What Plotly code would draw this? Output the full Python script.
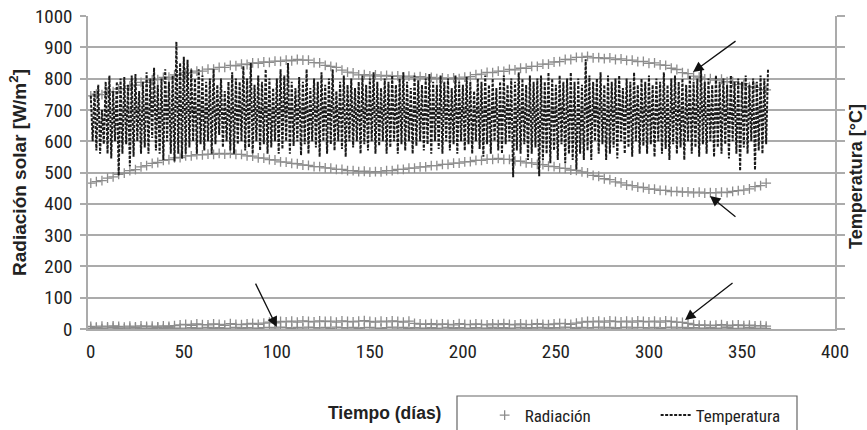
import plotly.graph_objects as go

# ---------------- data ----------------
x_ticks = [0, 50, 100, 150, 200, 250, 300, 350, 400]
y_ticks = [0, 100, 200, 300, 400, 500, 600, 700, 800, 900, 1000]

# daily temperature trace (plotted on the secondary axis, same visual scale)
temperatura = [
    745, 600, 760, 570, 780, 560, 700, 590, 790, 560, 810, 545, 760, 600, 790, 490, 800, 560, 805, 590,
    780, 520, 810, 550, 815, 600, 760, 560, 790, 580, 820, 560, 800, 610, 835, 570, 780, 560, 800, 540,
    830, 600, 790, 560, 810, 535, 918, 560, 850, 545, 870, 560, 860, 580, 830, 600, 800, 560, 830, 590,
    810, 570, 790, 600, 800, 560, 830, 590, 780, 620, 800, 580, 760, 600, 790, 570, 820, 560, 800, 590,
    790, 600, 840, 570, 800, 580, 850, 560, 780, 600, 810, 570, 790, 590, 830, 560, 800, 580, 770, 600,
    800, 560, 830, 575, 810, 600, 850, 560, 790, 585, 770, 600, 805, 555, 790, 590, 830, 560, 770, 600,
    800, 580, 790, 550, 820, 600, 780, 560, 800, 590, 830, 570, 760, 600, 790, 575, 810, 550, 780, 600,
    800, 580, 770, 600, 790, 560, 810, 590, 780, 570, 800, 600, 820, 560, 790, 585, 770, 600, 800, 560,
    790, 580, 810, 600, 780, 560, 800, 590, 820, 570, 790, 600, 770, 560, 810, 585, 795, 600, 780, 570,
    800, 590, 815, 560, 790, 600, 780, 575, 810, 560, 790, 600, 800, 570, 770, 590, 810, 560, 790, 600,
    780, 570, 805, 590, 790, 560, 760, 600, 800, 575, 790, 550, 810, 590, 780, 560, 800, 600, 770, 570,
    790, 560, 810, 590, 780, 600, 800, 485, 790, 570, 820, 560, 800, 590, 780, 540, 810, 560, 790, 580,
    800, 488, 810, 540, 790, 560, 820, 530, 800, 570, 780, 540, 810, 590, 790, 530, 800, 560, 820, 540,
    790, 510, 800, 560, 780, 540, 862, 570, 810, 540, 790, 600, 800, 560, 820, 590, 780, 540, 810, 560,
    790, 580, 800, 545, 810, 600, 770, 560, 800, 580, 790, 550, 820, 600, 780, 560, 800, 585, 790, 560,
    810, 590, 780, 550, 800, 600, 790, 560, 820, 575, 780, 540, 800, 590, 810, 560, 790, 580, 800, 540,
    780, 600, 810, 560, 790, 580, 800, 550, 830, 590, 790, 560, 800, 600, 780, 550, 810, 580, 790, 560,
    800, 590, 780, 545, 810, 600, 790, 560, 800, 505, 790, 580, 810, 560, 780, 600, 800, 508, 790, 570,
    810, 560, 800, 590, 830,
]
dias_temp = list(range(len(temperatura)))

# radiation, sampled every 3 days: upper band, lower band, two rows near zero
rad_superior = [
    745, 750, 749, 757, 758, 767, 768, 777, 779, 788,
    788, 796, 797, 804, 805, 812, 812, 818, 818, 824,
    824, 830, 830, 836, 836, 842, 841, 846, 845, 850,
    849, 853, 852, 856, 855, 859, 857, 861, 859, 859,
    851, 850, 842, 839, 836, 827, 821, 818, 812, 813,
    809, 812, 808, 810, 807, 809, 805, 808, 804, 806,
    802, 804, 800, 802, 799, 802, 800, 805, 806, 813,
    814, 820, 819, 824, 823, 829, 828, 833, 833, 839,
    839, 846, 846, 853, 854, 861, 861, 868, 868, 871,
    866, 867, 864, 866, 861, 863, 858, 859, 854, 855,
    849, 850, 844, 842, 833, 829, 819, 816, 808, 805,
    799, 800, 795, 798, 790, 790, 781, 784, 774, 772,
    765, 764,
]
rad_inferior = [
    466, 471, 474, 482, 486, 494, 498, 506, 509, 518,
    522, 529, 532, 539, 541, 547, 548, 553, 553, 557,
    556, 559, 558, 561, 559, 561, 558, 558, 553, 552,
    547, 546, 541, 540, 534, 533, 529, 528, 524, 523,
    519, 519, 515, 514, 510, 510, 506, 506, 503, 504,
    501, 503, 502, 506, 506, 510, 510, 514, 514, 518,
    518, 522, 522, 526, 526, 530, 530, 534, 535, 539,
    539, 543, 542, 545, 542, 542, 537, 536, 531, 531,
    526, 525, 520, 519, 514, 513, 508, 507, 502, 499,
    491, 488, 480, 477, 470, 467, 460, 458, 453, 452,
    447, 447, 443, 443, 439, 440, 437, 438, 435, 437,
    434, 436, 435, 437, 436, 440, 442, 444, 448, 455,
    458, 466,
]
rad_cero_a = [
    2, 4, 1, 3, 5, 2, 0, 3, 4, 1,
    3, 2, 5, 1, 4, 2, 3, 0, 4, 2,
    3, 5, 2, 4, 1, 3, 5, 2, 4, 3,
    2, 4, 5, 3, 6, 4, 2, 5, 3, 6,
    4, 3, 5, 2, 6, 4, 3, 5, 2, 4,
    5, 3, 2, 4, 6, 3, 5, 2, 4, 3,
    2, 4, 1, 3, 5, 2, 4, 3, 1, 4,
    3, 2, 5, 1, 4, 2, 3, 5, 2, 4,
    3, 5, 2, 4, 3, 6, 4, 2, 5, 3,
    4, 6, 3, 5, 2, 4, 6, 3, 5, 4,
    3, 5, 2, 4, 6, 3, 5, 2, 4, 3,
    2, 4, 1, 3, 5, 2, 0, 3, 4, 1,
    3, 2,
]
rad_cero_b = [
    8, 6, 9, 7, 10, 8, 6, 9, 7, 10,
    8, 9, 7, 10, 8, 11, 13, 15, 12, 16,
    14, 13, 16, 15, 12, 17, 15, 14, 16, 18,
    15, 19, 22, 20, 24, 23, 25, 22, 26, 24,
    23, 26, 24, 25, 22, 26, 24, 23, 25, 27,
    24, 22, 25, 23, 26, 24, 22, 25, 18, 16,
    15, 17, 14, 16, 15, 13, 17, 15, 14, 16,
    15, 13, 16, 14, 17, 15, 13, 16, 14, 15,
    17, 15, 14, 16, 18, 17, 15, 19, 22, 24,
    23, 25, 22, 26, 24, 23, 25, 22, 26, 24,
    23, 25, 22, 26, 24, 22, 21, 18, 14, 12,
    13, 11, 12, 14, 10, 12, 13, 11, 12, 10,
    11, 9,
]
dias_rad = [3 * i for i in range(len(rad_superior))]

# ---------------- figure ----------------
GRID = '#ababab'
TXT = '#222222'
NARROW = 'Liberation Sans Narrow, Roboto Condensed, Roboto, sans-serif'
BOLD = 'Liberation Sans, Arial, sans-serif'

fig = go.Figure()
fig.add_trace(go.Scatter(
    x=dias_rad * 4,
    y=rad_superior + rad_inferior + rad_cero_a + rad_cero_b,
    mode='markers', name='Radiación',
    marker=dict(symbol='cross-thin', size=7, color='#8c8c8c',
                line=dict(width=1.3, color='#8c8c8c')),
))
fig.add_trace(go.Scatter(
    x=dias_temp, y=temperatura, mode='lines', name='Temperatura', yaxis='y2',
    line=dict(color='#1a1a1a', width=2, dash='3px,1.5px'),
))

fig.update_layout(
    width=867, height=430,
    margin=dict(l=88, r=32, t=16, b=101, autoexpand=False),
    paper_bgcolor='white', plot_bgcolor='white',
    showlegend=True,
    legend=dict(orientation='h', x=0.531, xanchor='left', y=-0.219, yanchor='top',
                font=dict(family=NARROW, size=17, color=TXT),
                bgcolor='rgba(0,0,0,0)', borderwidth=0, entrywidth=126,
                itemwidth=30),
    xaxis=dict(range=[-1.5, 400], tickvals=x_ticks, showgrid=False, zeroline=False,
               showline=True, linecolor=GRID, linewidth=1.5, ticks='',
               tickfont=dict(family=NARROW, size=19, color=TXT), ticklabelstandoff=4,
               ticklabeloverflow='allow'),
    yaxis=dict(range=[0, 1000], tickvals=y_ticks, showgrid=True, gridcolor=GRID, gridwidth=1.5,
               zeroline=False, showline=True, linecolor=GRID, linewidth=1.5,
               ticks='outside', ticklen=6, tickcolor=GRID, tickwidth=1.5,
               tickfont=dict(family=NARROW, size=19, color=TXT), ticklabelstandoff=4,
               ticklabeloverflow='allow',
               title=dict(text='Radiación solar [W/m<sup>2</sup>]', standoff=3,
                          font=dict(family=BOLD, size=19, color=TXT, weight='bold'))),
    yaxis2=dict(range=[0, 1000], tickvals=y_ticks, overlaying='y', side='right',
                showgrid=False, zeroline=False, showline=True, linecolor=GRID, linewidth=1.5,
                ticks='outside', ticklen=8, tickcolor=GRID, tickwidth=1.5, showticklabels=False),
)

# right axis title
fig.add_annotation(text='<b>Temperatura [°C]</b>', xref='paper', yref='paper',
                   x=1, y=(329 - 177) / 313, xshift=21, textangle=-90,
                   xanchor='center', yanchor='middle', showarrow=False,
                   font=dict(family=BOLD, size=18, color=TXT))

# legend frame
fig.add_shape(type='rect', xref='paper', yref='paper',
              x0=(457 - 88) / 747, x1=(797 - 88) / 747,
              y0=(329 - 396) / 313, y1=(329 - 450) / 313,
              line=dict(color='#666666', width=1.2), fillcolor='rgba(0,0,0,0)', layer='above')

# x axis title, placed left of the legend as in the original
fig.add_annotation(text='<b>Tiempo (días)</b>', xref='paper', yref='paper',
                   x=(384 - 88) / 747, y=(329 - 413) / 313, showarrow=False,
                   xanchor='center', yanchor='middle',
                   font=dict(family=BOLD, size=17.5, color=TXT))

# arrows pointing at the curves
arrows = [
    (323.7, 821, 44, -32),
    (332.8, 425, 27, 22),
    (100.0, 6, -22, -45),
    (319.4, 29, 49, -38),
]
for ax_x, ax_y, dx, dy in arrows:
    fig.add_annotation(x=ax_x, y=ax_y, xref='x', yref='y', ax=dx, ay=dy,
                       showarrow=True, arrowhead=2, arrowsize=1.6, arrowwidth=1.3,
                       arrowcolor='#111111', text='')

# remove the default 8 px page margin so the figure fills the window exactly
fig.write_html('out.html', config={'displayModeBar': False},
               post_script="document.body.style.margin='0';")
